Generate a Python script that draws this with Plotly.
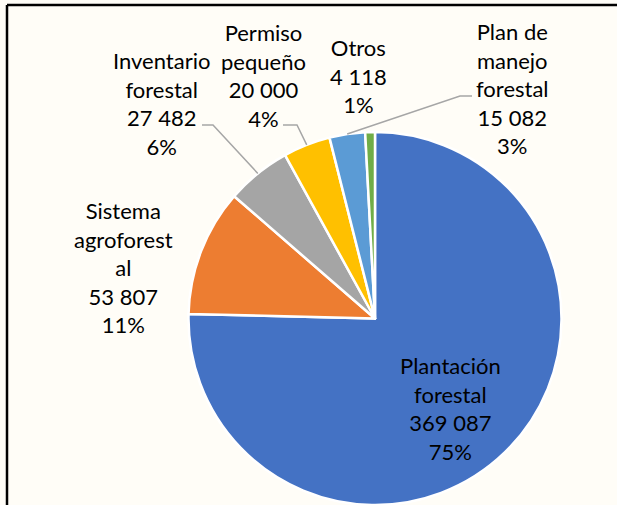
import math
import plotly.graph_objects as go

W, H = 617, 505

# slices, clockwise from 12 o'clock
labels = ["Plantación forestal", "Sistema agroforestal", "Inventario forestal",
          "Permiso pequeño", "Plan de manejo forestal", "Otros"]
label_text = ["Plantación<br>forestal", "Sistema<br>agroforest<br>al", "Inventario<br>forestal",
              "Permiso<br>pequeño", "Plan de<br>manejo<br>forestal", "Otros"]
values = [369087, 53807, 27482, 20000, 15082, 4118]
colors = ["#4472C4", "#ED7D31", "#A5A5A5", "#FFC000", "#5B9BD5", "#70AD47"]

# label centres in pixels (layout only)
label_pos = [(450, 408), (123, 267), (161, 104), (263, 75), (512, 89), (358, 76)]
# leader line: elbow end near the label (pixels), None = no leader
leader_start = [None, None, ((202, 125), (213, 125)), ((283, 125), (297, 125)),
                ((472, 96), (460, 96)), None]

# pie geometry (pixels)
cx, cy, R = 375, 318.5, 186.5

total = sum(values)


def fmt(v):
    return f"{v:,}".replace(",", " ")


def px(x):
    return x / W


def py(y):
    return 1 - y / H


fig = go.Figure(go.Pie(
    labels=labels,
    values=values,
    sort=False,
    direction="clockwise",
    rotation=0,
    marker=dict(colors=colors, line=dict(color="white", width=2.5)),
    textinfo="none",
    hoverinfo="label+value+percent",
    domain=dict(x=[px(cx - R), px(cx + R)], y=[0, py(cy - R)]),
    showlegend=False,
))

annotations = []
shapes = []
cum = 0
for i, v in enumerate(values):
    pct = round(v / total * 100)
    txt = f"{label_text[i]}<br>{fmt(v)}<br>{pct}%"
    lx, ly = label_pos[i]
    annotations.append(dict(
        x=px(lx), y=py(ly), xref="paper", yref="paper",
        text=txt, showarrow=False, xanchor="center", yanchor="middle",
        align="center", font=dict(family="Lato", size=22, color="black"),
    ))
    mid = (cum + v / 2) / total * 2 * math.pi
    cum += v
    if leader_start[i] is not None:
        (x0, y0), (x1, y1) = leader_start[i]
        ax = cx + R * math.sin(mid)
        ay = cy - R * math.cos(mid)
        path = (f"M {px(x0)},{py(y0)} L {px(x1)},{py(y1)} "
                f"L {px(ax)},{py(ay)}")
        shapes.append(dict(type="path", path=path, xref="paper", yref="paper",
                           line=dict(color="#A6A6A6", width=1.5)))

# chart frame (top and left edges visible)
shapes.append(dict(type="line", xref="paper", yref="paper",
                   x0=px(7), y0=py(5), x1=1, y1=py(5),
                   line=dict(color="black", width=2.5)))
shapes.append(dict(type="line", xref="paper", yref="paper",
                   x0=px(7), y0=py(5), x1=px(7), y1=0,
                   line=dict(color="black", width=2.5)))

fig.update_layout(
    width=W, height=H, autosize=False,
    margin=dict(l=0, r=0, t=0, b=0),
    paper_bgcolor="#fffdf7",
    plot_bgcolor="#fffdf7",
    annotations=annotations,
    shapes=shapes,
)

# drop the page's default body margin so the figure fills the window
fig.write_html("out.html", config={"displayModeBar": False},
               post_script="document.body.style.margin = '0';")
